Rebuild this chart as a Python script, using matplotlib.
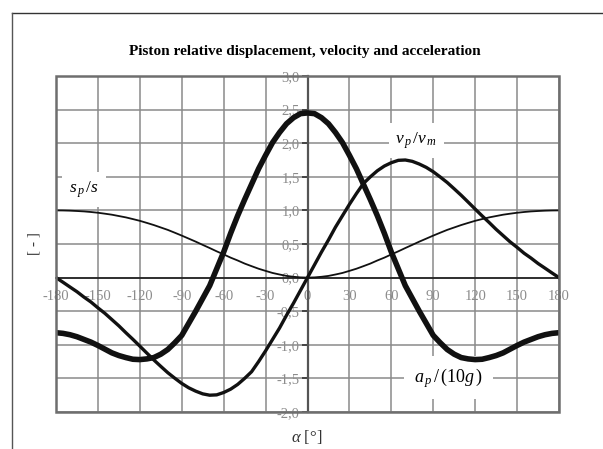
import matplotlib
matplotlib.use('Agg')
import matplotlib.pyplot as plt
from matplotlib.lines import Line2D
from matplotlib.patches import Rectangle
from matplotlib.ticker import FuncFormatter

plt.rcParams['font.family'] = ['Liberation Serif', 'DejaVu Serif']
plt.rcParams['mathtext.fontset'] = 'custom'
plt.rcParams['mathtext.rm'] = 'Liberation Serif'
plt.rcParams['mathtext.it'] = 'Liberation Serif:italic'

# crank angle [deg], every 5 degrees
alpha = list(range(-180, 181, 5))

# relative displacement s_p/s
disp = [1.0, 0.999, 0.996, 0.991, 0.985, 0.976, 0.965, 0.951, 0.936, 0.916,
        0.896, 0.871, 0.845, 0.814, 0.782, 0.746, 0.71, 0.668, 0.625, 0.58,
        0.535, 0.487, 0.44, 0.391, 0.345, 0.297, 0.255, 0.209, 0.17, 0.132,
        0.10, 0.069, 0.046, 0.025, 0.012, 0.003,
        0.0,
        0.003, 0.012, 0.025, 0.046, 0.069, 0.10, 0.132, 0.17, 0.209, 0.255,
        0.297, 0.345, 0.391, 0.44, 0.487, 0.535, 0.58, 0.625, 0.668, 0.71,
        0.746, 0.782, 0.814, 0.845, 0.871, 0.896, 0.916, 0.936, 0.951, 0.965,
        0.976, 0.985, 0.991, 0.996, 0.999, 1.0]

# relative velocity v_p/v_m
vel = [0.0, -0.069, -0.14, -0.21, -0.29, -0.363, -0.45, -0.532, -0.625, -0.718,
       -0.82, -0.918, -1.02, -1.123, -1.225, -1.321, -1.415, -1.497, -1.575, -1.64,
       -1.69, -1.73, -1.75, -1.745, -1.71, -1.66, -1.59, -1.50, -1.40, -1.25,
       -1.09, -0.92, -0.75, -0.56, -0.38, -0.19,
       0.0,
       0.19, 0.38, 0.56, 0.75, 0.92, 1.09, 1.25, 1.40, 1.50, 1.59,
       1.66, 1.71, 1.745, 1.75, 1.73, 1.69, 1.64, 1.575, 1.497, 1.415,
       1.321, 1.225, 1.123, 1.02, 0.918, 0.82, 0.718, 0.625, 0.532, 0.45,
       0.363, 0.29, 0.21, 0.14, 0.069, 0.0]

# acceleration a_p/(10g)
acc = [-0.82, -0.83, -0.85, -0.88, -0.92, -0.96, -1.01, -1.065, -1.12, -1.16,
       -1.19, -1.215, -1.22, -1.21, -1.19, -1.14, -1.07, -0.97, -0.86, -0.68,
       -0.50, -0.31, -0.12, 0.13, 0.38, 0.66, 0.92, 1.16, 1.39, 1.62,
       1.82, 2.01, 2.16, 2.29, 2.38, 2.44,
       2.45,
       2.44, 2.38, 2.29, 2.16, 2.01, 1.82, 1.62, 1.39, 1.16, 0.92,
       0.66, 0.38, 0.13, -0.12, -0.31, -0.50, -0.68, -0.86, -0.97, -1.07,
       -1.14, -1.19, -1.21, -1.22, -1.215, -1.19, -1.16, -1.12, -1.065, -1.01,
       -0.96, -0.92, -0.88, -0.85, -0.83, -0.82]

x_ticks = list(range(-180, 181, 30))
y_ticks = [-2.0, -1.5, -1.0, -0.5, 0.0, 0.5, 1.0, 1.5, 2.0, 2.5, 3.0]

W, H = 603, 449
fig = plt.figure(figsize=(W / 100, H / 100), dpi=100)
ax = fig.add_axes([56 / W, (H - 412) / H, 503 / W, 336 / H])

ax.set_xlim(-180, 180)
ax.set_ylim(-2.0, 3.0)
ax.set_xticks(x_ticks)
ax.set_yticks(y_ticks)
ax.yaxis.set_major_formatter(FuncFormatter(lambda v, p: f"{v:.1f}".replace('.', ',')))
ax.xaxis.set_major_formatter(FuncFormatter(lambda v, p: f"{int(v)}"))

# axes through the origin
ax.spines['left'].set_position(('data', 0))
ax.spines['bottom'].set_position(('data', 0))
ax.spines['left'].set_color('#555555')
ax.spines['left'].set_linewidth(1.6)
ax.spines['bottom'].set_color('#111111')
ax.spines['bottom'].set_linewidth(1.1)
ax.spines['right'].set_visible(False)
ax.spines['top'].set_visible(False)
ax.add_patch(Rectangle((0, 0), 1, 1, transform=ax.transAxes, fill=False,
                       ec='#6e6e6e', lw=1.8, zorder=4, clip_on=False))

ax.tick_params(axis='y', direction='out', length=4, width=1.2, color='#333333',
               pad=1.5, labelsize=10.5, labelcolor='#8c8c8c')
ax.tick_params(axis='x', direction='out', length=0, pad=9,
               labelsize=10.5, labelcolor='#8c8c8c')

ax.set_axisbelow(True)
ax.grid(True, color='#8a8a8a', lw=1.1)

ax.plot(alpha, disp, color='#111111', lw=1.3, zorder=3, solid_joinstyle='round')
ax.plot(alpha, vel, color='#111111', lw=2.4, zorder=3, solid_joinstyle='round')
ax.plot(alpha, acc, color='#111111', lw=4.0, zorder=3, solid_joinstyle='round',
        solid_capstyle='butt')

box = dict(facecolor='white', edgecolor='none', pad=5)
ax.text(-160, 1.31, r'$s_{\,p}\,/s$', fontsize=12.5, ha='center', va='center',
        bbox=box, zorder=2)
ax.text(78, 2.04, r'$v_{\,p}\,/v_{\,m}$', fontsize=12.5, ha='center', va='center',
        bbox=box, zorder=2)
ax.text(101, -1.49, r'$a_{\,p}\,/\,\mathrm{(10}g\,\mathrm{)}$', fontsize=13,
        ha='center', va='center', bbox=dict(facecolor='white', edgecolor='none', pad=7),
        zorder=2)

fig.text(305 / W, 1 - 52 / H, 'Piston relative displacement, velocity and acceleration',
         fontsize=11, fontweight='bold', ha='center', va='center')
fig.text(307 / W, 1 - 437 / H, r'$\alpha$ [°]', fontsize=12, ha='center', va='center',
         color='#333333')
fig.text(34 / W, 1 - 244 / H, '[ - ]', fontsize=11, rotation=90, ha='center',
         va='center', color='#333333')

# outer border (top and left edges)
fig.add_artist(Line2D([12 / W, 1], [1 - 13 / H, 1 - 13 / H], color='#333333', lw=1.0))
fig.add_artist(Line2D([12 / W, 12 / W], [0, 1 - 13 / H], color='#555555', lw=1.0))

fig.savefig('out.png', dpi=100)
